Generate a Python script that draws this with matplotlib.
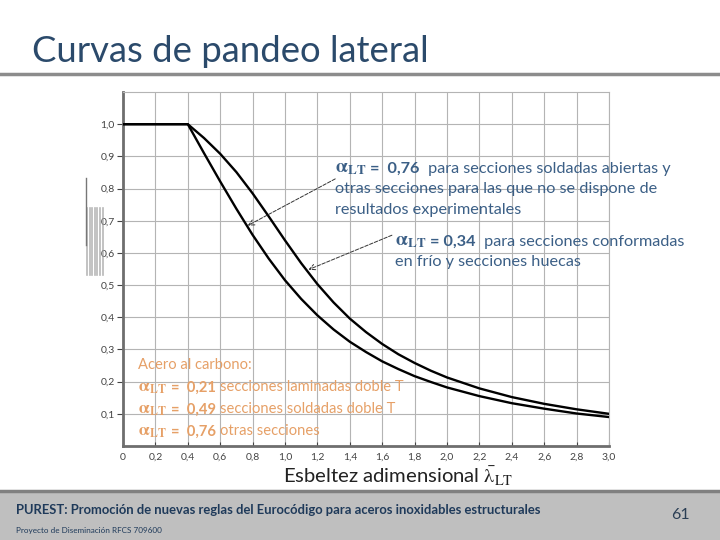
import matplotlib
matplotlib.use('Agg')
import matplotlib.pyplot as plt
from matplotlib.offsetbox import TextArea, HPacker, AnnotationBbox
from matplotlib.lines import Line2D
from matplotlib.patches import Rectangle

plt.rcParams['font.family'] = ['Lato', 'DejaVu Sans']
plt.rcParams['mathtext.fontset'] = 'stix'

# esbeltez adimensional y factor de reduccion
lam = [0.0, 0.2, 0.4, 0.5, 0.6, 0.7, 0.8, 0.9, 1.0, 1.1, 1.2, 1.3, 1.4, 1.5,
       1.6, 1.7, 1.8, 1.9, 2.0, 2.2, 2.4, 2.6, 2.8, 3.0]
chi_034 = [1.0, 1.0, 1.0, 0.957, 0.908, 0.851, 0.785, 0.713, 0.639, 0.568,
           0.503, 0.446, 0.396, 0.354, 0.317, 0.285, 0.258, 0.234, 0.213,
           0.179, 0.152, 0.131, 0.114, 0.100]
chi_076 = [1.0, 1.0, 1.0, 0.910, 0.822, 0.737, 0.656, 0.582, 0.515, 0.457,
           0.406, 0.362, 0.324, 0.292, 0.263, 0.239, 0.217, 0.199, 0.182,
           0.155, 0.133, 0.116, 0.101, 0.090]
xticks = [0, 0.2, 0.4, 0.6, 0.8, 1.0, 1.2, 1.4, 1.6, 1.8, 2.0, 2.2, 2.4, 2.6, 2.8, 3.0]
xticklabels = ['0', '0,2', '0,4', '0,6', '0,8', '1,0', '1,2', '1,4', '1,6', '1,8',
               '2,0', '2,2', '2,4', '2,6', '2,8', '3,0']
yticks = [0.1, 0.2, 0.3, 0.4, 0.5, 0.6, 0.7, 0.8, 0.9, 1.0]
yticklabels = ['0,1', '0,2', '0,3', '0,4', '0,5', '0,6', '0,7', '0,8', '0,9', '1,0']

BLUE = '#3b5f86'
ORANGE = '#e6a067'
TITLE = '#2b4a6b'
ALPHA = r'$\mathbf{\alpha_{LT}}$'

W, H = 720, 540
fig = plt.figure(figsize=(7.2, 5.4), dpi=100)


def rich(parts, x, y, color, size):
    # parts: lista de (texto, peso); x, y en pixeles desde arriba a la izquierda
    areas = []
    for t, w in parts:
        fs = size * 1.15 if t == ALPHA else size
        areas.append(TextArea(t, textprops=dict(color=color, fontsize=fs, fontweight=w)))
    box = HPacker(children=areas, pad=0, sep=3, align='baseline')
    ab = AnnotationBbox(box, (x, H - y), xycoords='figure pixels',
                        box_alignment=(0, 0.5), frameon=False, pad=0)
    fig.add_artist(ab)


# titulo y linea
fig.text(32 / W, 1 - 52 / H, 'Curvas de pandeo lateral', fontsize=26.3,
         color=TITLE, va='center', ha='left')
fig.add_artist(Line2D([0, 1], [1 - 74 / H, 1 - 74 / H], color='#8c8c8c', lw=2.5))

# pie
fig.add_artist(Rectangle((0, 0), 1, 1 - 492 / H, transform=fig.transFigure,
                         color='#bfbfbf', zorder=0))
fig.add_artist(Line2D([0, 1], [1 - 491 / H, 1 - 491 / H], color='#808080', lw=2.5))
fig.text(16 / W, 1 - 510 / H,
         'PUREST: Promoción de nuevas reglas del Eurocódigo para aceros inoxidables estructurales',
         fontsize=9.4, fontweight='bold', color='#1f3a5a', va='center')
fig.text(16 / W, 1 - 530 / H, 'Proyecto de Diseminación RFCS 709600',
         fontsize=5.9, color='#1f3a5a', va='center')
fig.text(680 / W, 1 - 515 / H, '61', fontsize=11.5, color='#2b3f55', va='center', ha='center')

# artefacto de imagen a la izquierda
for xp in [87, 90, 92, 95, 97, 100, 103]:
    fig.add_artist(Line2D([xp / W, xp / W], [1 - 275 / H, 1 - 208 / H],
                          color='#9a9a9a', lw=1.2, alpha=0.7))
fig.add_artist(Line2D([86 / W, 86 / W], [1 - 245 / H, 1 - 178 / H], color='#777777', lw=1))

ax = fig.add_axes([123 / W, 1 - 446 / H, (609 - 123) / W, (446 - 92) / H])
ax.plot(lam, chi_034, color='black', lw=1.7, zorder=3)
ax.plot(lam, chi_076, color='black', lw=1.7, zorder=3)
ax.set_xlim(0, 3.0)
ax.set_ylim(0, 1.1)
ax.set_xticks(xticks)
ax.set_xticklabels(xticklabels)
ax.set_yticks(yticks)
ax.set_yticklabels(yticklabels)
ax.tick_params(axis='x', direction='in', length=3, labelsize=7.5, colors='#444444', pad=5)
ax.tick_params(axis='y', direction='out', length=4, labelsize=7.5, colors='#444444', pad=2)
ax.grid(True, color='#b4b4b4', lw=0.8)
ax.set_axisbelow(True)
for s in ['left', 'bottom']:
    ax.spines[s].set_color('#6e6e6e')
    ax.spines[s].set_linewidth(2)
for s in ['top', 'right']:
    ax.spines[s].set_color('#b4b4b4')
    ax.spines[s].set_linewidth(0.8)

# titulo del eje x
fig.text(283 / W, 1 - 476 / H,
         r'Esbeltez adimensional $\bar{\mathrm{\lambda}}_{\mathrm{LT}}$',
         fontsize=14.6, color='#222222', va='center', ha='left')

# flechas
ax.annotate('', xy=(0.77, 0.685), xytext=(1.31, 0.83),
            arrowprops=dict(arrowstyle='->', color='#333333', lw=0.7, ls='--',
                            shrinkA=0, shrinkB=0))
ax.annotate('', xy=(1.145, 0.548), xytext=(1.66, 0.655),
            arrowprops=dict(arrowstyle='->', color='#333333', lw=0.7, ls='--',
                            shrinkA=0, shrinkB=0))

# textos azules
rich([(ALPHA, 'bold'), ('=  0,76', 'bold'), (' para secciones soldadas abiertas y', 'normal')],
     335, 168, BLUE, 11.7)
rich([('otras secciones para las que no se dispone de', 'normal')], 335, 189, BLUE, 11.7)
rich([('resultados experimentales', 'normal')], 335, 210, BLUE, 11.7)
rich([(ALPHA, 'bold'), ('= 0,34', 'bold'), (' para secciones conformadas', 'normal')],
     395, 241, BLUE, 11.7)
rich([('en frío y secciones huecas', 'normal')], 395, 262, BLUE, 11.7)

# textos naranjas
rich([('Acero al carbono:', 'normal')], 138, 365, ORANGE, 10.6)
rich([(ALPHA, 'bold'), ('=  0,21', 'bold'), ('secciones laminadas doble T', 'normal')],
     138, 387, ORANGE, 10.6)
rich([(ALPHA, 'bold'), ('=  0,49', 'bold'), ('secciones soldadas doble T', 'normal')],
     138, 409, ORANGE, 10.6)
rich([(ALPHA, 'bold'), ('=  0,76', 'bold'), ('otras secciones', 'normal')],
     138, 431, ORANGE, 10.6)

fig.savefig('out.png', dpi=100)
